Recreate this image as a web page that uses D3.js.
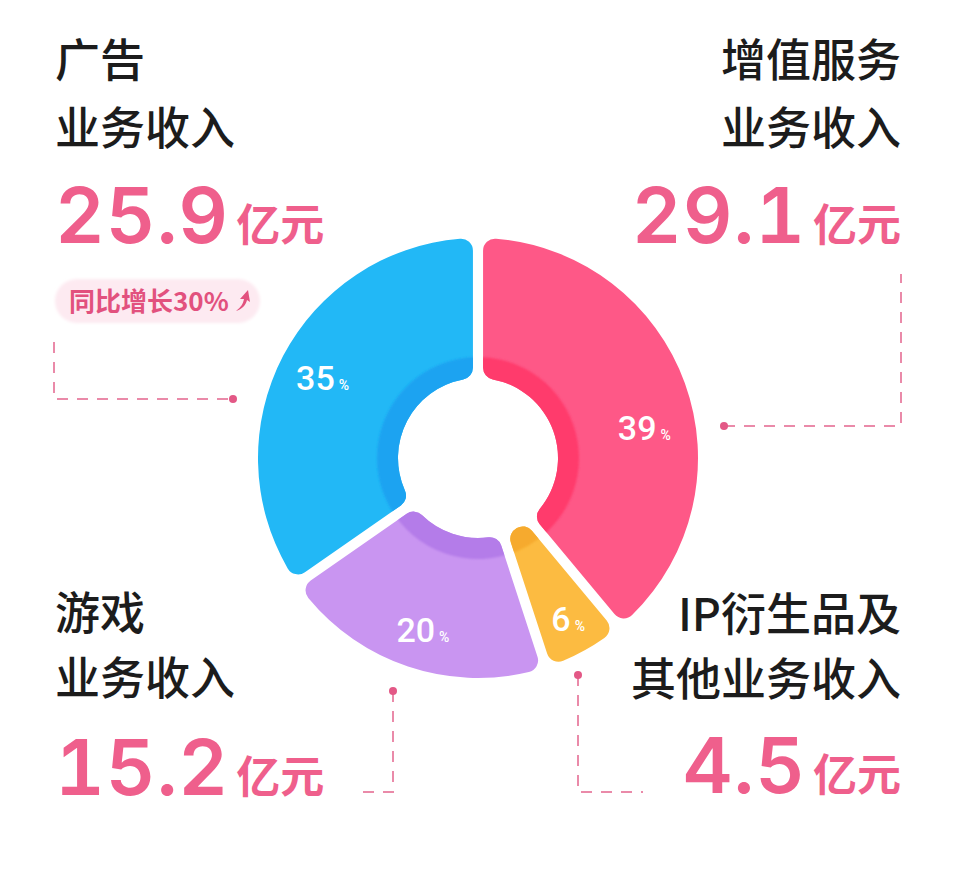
<!DOCTYPE html>
<html>
<head>
<meta charset="utf-8">
<script src="https://cdn.jsdelivr.net/npm/d3@7"></script>
<style>
  html, body { margin: 0; padding: 0; background: #ffffff; }
  svg { display: block; }
  .num { font-feature-settings: "tnum" 1; font-variant-numeric: tabular-nums; }
</style>
</head>
<body>
<svg id="chart" width="960" height="870"></svg>
<script>
// ---------------- data ----------------
const categories = ["增值服务业务收入", "IP衍生品及其他业务收入", "游戏业务收入", "广告业务收入"];
const titleLine1 = ["增值服务", "IP衍生品及", "游戏", "广告"];
const titleLine2 = ["业务收入", "其他业务收入", "业务收入", "业务收入"];
const revenue = [29.1, 4.5, 15.2, 25.9];          // 亿元
const sharePct = [39, 6, 20, 35];                  // %
const unitLabel = "亿元";
const growthNote = "同比增长30%";                   // attached to 广告

// ---------------- styles ----------------
const fillColors = ["#fe5887", "#fcbb41", "#c995f1", "#22b8f6"];
const ringColors = ["#ff3b6c", "#f6aa2e", "#b47be9", "#1ea3f1"];
const pink = "#ef5f8c";
const dashPink = "#ea8aa9";

const svg = d3.select("#chart");
const cx = 478, cy = 458;
const outerR = 220, innerR = 80, ringR = 101;

const pie = d3.pie().sort(null).value(d => d).startAngle(0).endAngle(2 * Math.PI);
const arcs = pie(revenue);

const arcGen = d3.arc()
  .innerRadius(innerR).outerRadius(outerR)
  .cornerRadius(12).padAngle(0.046).padRadius(outerR);

const ringGen = d3.arc().innerRadius(innerR - 2).outerRadius(ringR);

const defs = svg.append("defs");
const blur = defs.append("filter").attr("id", "soft").attr("x", "-10%").attr("y", "-30%").attr("width", "120%").attr("height", "160%");
blur.append("feGaussianBlur").attr("stdDeviation", 1.8);
const ringBlur = defs.append("filter").attr("id", "ringsoft");
ringBlur.append("feGaussianBlur").attr("stdDeviation", 1.2);

arcs.forEach((a, i) => {
  defs.append("clipPath").attr("id", "clip" + i)
    .append("path").attr("d", arcGen(a));
});

const g = svg.append("g").attr("transform", `translate(${cx},${cy})`);

g.selectAll("path.seg").data(arcs).join("path")
  .attr("class", "seg")
  .attr("d", arcGen)
  .attr("fill", (d, i) => fillColors[i]);

g.selectAll("g.ring").data(arcs).join("g")
  .attr("class", "ring")
  .attr("clip-path", (d, i) => `url(#clip${i})`)
  .append("path")
  .attr("d", d => ringGen({ startAngle: d.startAngle - 0.1, endAngle: d.endAngle + 0.1 }))
  .attr("fill", (d, i) => ringColors[i])
  .attr("filter", "url(#ringsoft)");

// percent labels
const labelNudge = [0.17, -0.02, -0.03, 0];   // small angular adjustments (radians)
const labelR = [172, 186, 180, 172];
g.selectAll("text.pct").data(arcs).join("text")
  .attr("class", "pct")
  .attr("text-anchor", "middle")
  .attr("fill", "#ffffff")
  .attr("font-family", "Roboto, 'DejaVu Sans', sans-serif")
  .attr("transform", (d, i) => {
    const ang = (d.startAngle + d.endAngle) / 2 + labelNudge[i];
    const r = labelR[i];
    return `translate(${r * Math.sin(ang) - 3},${-r * Math.cos(ang) + 12})`;
  })
  .each(function (d, i) {
    const t = d3.select(this);
    t.append("tspan").attr("font-size", 34).attr("font-weight", 500).text(sharePct[i]);
    t.append("tspan").attr("font-size", 14).attr("font-weight", 500).attr("dx", 4).text("%");
  });

// ---------------- text blocks ----------------
const cjk = "'Noto Sans CJK SC', 'Noto Sans', sans-serif";
const numFont = "Inter, 'Open Sans', 'Liberation Sans', sans-serif";

const blocks = [
  { x: 901, anchor: "end",   y: [77, 145, 243] },
  { x: 901, anchor: "end",   y: [631, 696, 793] },
  { x: 55,  anchor: "start", y: [630, 695, 795] },
  { x: 55,  anchor: "start", y: [77, 145, 243] }
];

blocks.forEach((b, i) => {
  const tg = svg.append("g");
  [titleLine1[i], titleLine2[i]].forEach((line, k) => {
    tg.append("text")
      .attr("x", b.x).attr("y", b.y[k])
      .attr("text-anchor", b.anchor)
      .attr("font-family", cjk).attr("font-size", 45).attr("font-weight", 500)
      .attr("fill", "#1c1c1c")
      .text(line);
  });
  const nt = tg.append("text")
    .attr("x", b.x).attr("y", b.y[2])
    .attr("text-anchor", b.anchor)
    .attr("fill", pink);
  nt.append("tspan")
    .attr("class", "num")
    .attr("font-family", numFont).attr("font-size", 77).attr("font-weight", 600)
    .attr("letter-spacing", 1)
    .text(revenue[i].toFixed(1));
  nt.append("tspan")
    .attr("dx", 7)
    .attr("dy", -2)
    .attr("font-family", cjk).attr("font-size", 44).attr("font-weight", 700)
    .text(unitLabel);
});

// growth pill under 广告
const pill = svg.append("g");
pill.append("rect")
  .attr("x", 55).attr("y", 279).attr("width", 205).attr("height", 44).attr("rx", 22)
  .attr("fill", "#fdeaf1").attr("filter", "url(#soft)");
pill.append("text")
  .attr("x", 69).attr("y", 311)
  .attr("font-family", cjk).attr("font-size", 26).attr("font-weight", 700)
  .attr("fill", "#e2517e")
  .text(growthNote);
pill.append("path")
  .attr("d", "M236,311 C241,307 243,304 244,299 L240,299 L248,290 L250,302 L247,300 C246,305 242,309 236,311 Z")
  .attr("fill", "#e2517e");

// ---------------- dashed connectors ----------------
const connectors = [
  { dot: [724, 426], pts: [[724, 426], [901, 426], [901, 274]] },
  { dot: [578, 675], pts: [[578, 675], [578, 792], [643, 792]] },
  { dot: [393, 691], pts: [[393, 691], [393, 792], [355, 792]] },
  { dot: [233, 399], pts: [[54, 342], [54, 399], [233, 399]] }
];
const line = d3.line();
connectors.forEach(c => {
  svg.append("path")
    .attr("d", line(c.pts))
    .attr("fill", "none")
    .attr("stroke", dashPink)
    .attr("stroke-width", 2)
    .attr("stroke-dasharray", "11 9");
  svg.append("circle")
    .attr("cx", c.dot[0]).attr("cy", c.dot[1]).attr("r", 4)
    .attr("fill", "#e35886");
});
</script>
</body>
</html>
